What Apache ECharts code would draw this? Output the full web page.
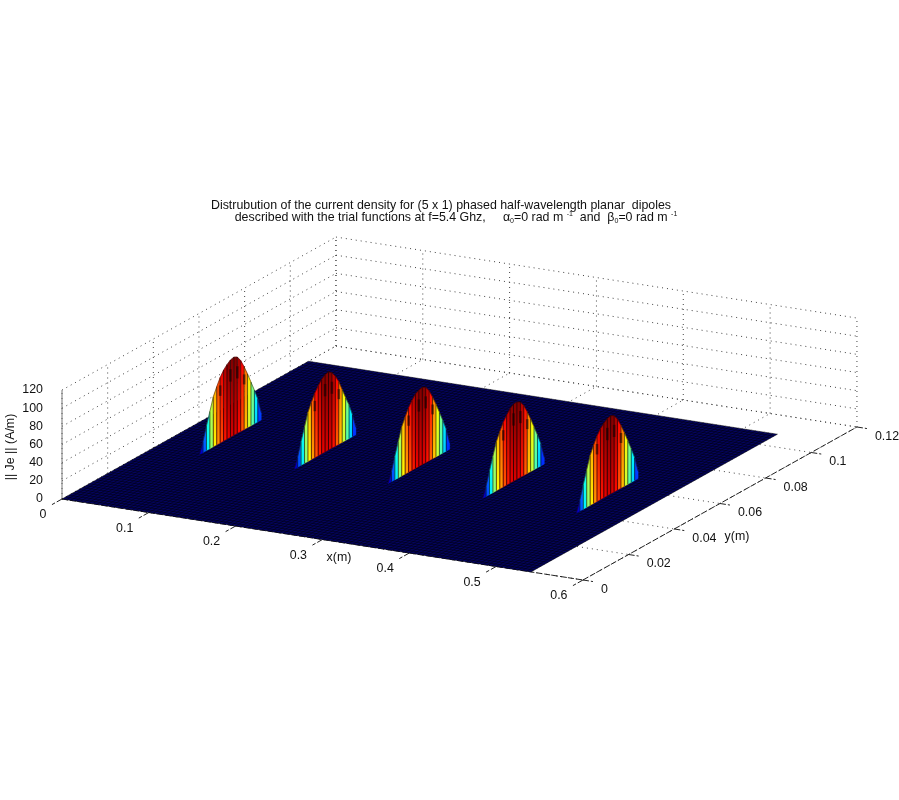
<!DOCTYPE html>
<html><head><meta charset="utf-8">
<style>html,body{margin:0;padding:0;background:#fff}#c{width:899px;height:800px;filter:blur(0.45px)}</style>
<script src="https://cdn.jsdelivr.net/npm/echarts@6/dist/echarts.min.js"></script></head>
<body><div id="c"></div>
<script>
// ---- chart values ----
const xTicks = [0, 0.1, 0.2, 0.3, 0.4, 0.5, 0.6];
const yTicks = [0, 0.02, 0.04, 0.06, 0.08, 0.1, 0.12];
const zTicks = [0, 20, 40, 60, 80, 100, 120];
const xTickLabels = ['0', '0.1', '0.2', '0.3', '0.4', '0.5', '0.6'];
const yTickLabels = ['0', '0.02', '0.04', '0.06', '0.08', '0.1', '0.12'];
const zTickLabels = ['0', '20', '40', '60', '80', '100', '120'];
const surfaceXEnd = 0.54, surfaceYEnd = 0.108;
const dipoleX = [0.052, 0.161, 0.269, 0.378, 0.486];
const dipoleY = [0.0405,0.042,0.0435,0.045,0.0465,0.048,0.0495,0.051,0.0525,0.054,0.0555,0.057,0.0585,0.06,0.0615,0.063,0.0645,0.066,0.0675];
const dipole1 = [0,12,27,41,55,64,72,78,82,85,86,84,78,69,59,48,37,25,8];
const dipole2 = [0,11,26,40,54,63,71,77,82,85,86,83,77,69,58,47,37,24,8];
const dipole3 = [0,11,26,40,54,63,71,77,82,84,85,83,77,68,58,47,36,24,7];
const dipole4 = [0,11,26,40,54,63,71,77,82,85,85,83,77,68,58,47,36,24,7];
const dipole5 = [0,12,27,41,55,64,72,78,82,85,86,84,78,69,59,48,37,25,8];
const dipoles = [dipole1, dipole2, dipole3, dipole4, dipole5];
const darkColumns = [6, 9, 11, 13];
const zMax = 84;

// ---- view projection of the 3-D box on the page plane ----
const O = [62, 499], UX = [868.3, 135], UY = [2283, -1275], UZ = -0.908;
const proj = (x, y, z) => [O[0] + UX[0]*x + UY[0]*y, O[1] + UX[1]*x + UY[1]*y + UZ*z];
const xMax = 0.6, yMax = 0.12, zTop = 120;

const jetStops = [[0,[0,0,143]],[0.125,[0,0,255]],[0.375,[0,255,255]],[0.625,[255,255,0]],[0.875,[255,0,0]],[1,[128,0,0]]];
function jet(t){ t=Math.max(0,Math.min(1,t));
  for(let i=1;i<jetStops.length;i++){ if(t<=jetStops[i][0]){ const a=jetStops[i-1],b=jetStops[i],f=(t-a[0])/(b[0]-a[0]);
    return 'rgb('+a[1].map((c,k)=>Math.round(c+(b[1][k]-c)*f)).join(',')+')'; } }
  return 'rgb(128,0,0)'; }

// ---- dotted grid on floor and back walls ----
const gridRows = [];
xTicks.forEach(x=>{ gridRows.push([x,0,0,x,yMax,0]); gridRows.push([x,yMax,0,x,yMax,zTop]); });
yTicks.forEach(y=>{ gridRows.push([0,y,0,xMax,y,0]); gridRows.push([0,y,0,0,y,zTop]); });
zTicks.forEach(z=>{ gridRows.push([0,0,z,0,yMax,z]); gridRows.push([0,yMax,z,xMax,yMax,z]); });

// ---- axis lines and ticks ----
const axisRows = [[0,0,0,xMax,0,0],[xMax,0,0,xMax,yMax,0]];
xTicks.forEach(x=>axisRows.push([x,0,0,x,-0.0044,0]));
yTicks.forEach(y=>axisRows.push([xMax,y,0,xMax+0.0115,y,0]));

// ---- flat surface mesh ----
const meshRows = [];
for(let i=0;i<=108;i++){ const x=surfaceXEnd*i/108; meshRows.push([x,0,0,x,surfaceYEnd,0]); }
for(let j=0;j<=72;j++){ const y=surfaceYEnd*j/72; meshRows.push([0,y,0,surfaceXEnd,y,0]); }

// ---- dipole columns ----
const colRows = [];
dipoles.forEach((vals,d)=>{ for(let i=0;i<vals.length-1;i++)
  colRows.push([dipoleX[d],dipoleY[i],dipoleY[i+1],vals[i],vals[i+1],darkColumns.includes(i)?1:0]); });

// ---- labels ----
const labelRows = [];
xTicks.forEach((x,i)=>labelRows.push([x,0,0,-15.5,16,'right',xTickLabels[i]]));
yTicks.forEach((y,i)=>labelRows.push([xMax,y,0,18,9.5,'left',yTickLabels[i]]));
zTicks.forEach((z,i)=>labelRows.push([0,0,z,-19,0,'right',zTickLabels[i]]));

const textCol = '#111';
const lineSeries = (rows, style, z) => ({
  type:'custom', coordinateSystem:'cartesian2d', silent:true, clip:false, z, animation:false, data:rows,
  renderItem:(p,api)=>{ const a=api.coord(proj(api.value(0),api.value(1),api.value(2))), b=api.coord(proj(api.value(3),api.value(4),api.value(5)));
    return {type:'line',shape:{x1:a[0],y1:a[1],x2:b[0],y2:b[1]},style}; }
});

const chart = echarts.init(document.getElementById('c'),null,{renderer:'canvas'});
const fontFamily = '"Liberation Sans", Arial, sans-serif';
const fs = 12.4;
chart.setOption({
  animation:false, backgroundColor:'#fff',
  title:[
    {text:'Distrubution of the current density for (5 x 1) phased half-wavelength planar  dipoles',
     left:436, top:195, textAlign:'center',
     textStyle:{fontFamily,fontSize:fs,fontWeight:'normal',color:textCol}},
    {text:'described with the trial functions at f=5.4 Ghz,     {s|α}{sub|0}=0 rad m {sup|-1}  and  {s|β}{sub|0}=0 rad m {sup|-1}',
     left:451, top:206, textAlign:'center',
     textStyle:{fontFamily,fontSize:fs,fontWeight:'normal',color:textCol,lineHeight:14,
       rich:{s:{fontFamily,fontSize:fs,color:textCol},
             sub:{fontFamily,fontSize:7,color:textCol,verticalAlign:'bottom',lineHeight:14},
             sup:{fontFamily,fontSize:7,color:textCol,verticalAlign:'top',lineHeight:10}}}}
  ],
  grid:{left:0,right:0,top:0,bottom:0},
  xAxis:{type:'value',min:0,max:899,show:false},
  yAxis:{type:'value',min:0,max:800,inverse:true,show:false},
  series:[
    lineSeries(gridRows,{stroke:'#444',lineWidth:1,lineDash:[1,4]},1),
    lineSeries(axisRows,{stroke:'#222',lineWidth:1,lineDash:[6,2]},2),
    lineSeries([[0,0,0,0,0,zTop]],{stroke:'#777',lineWidth:1},2),
    { type:'custom',coordinateSystem:'cartesian2d',silent:true,clip:false,z:3,data:[[surfaceXEnd,surfaceYEnd]],
      renderItem:(p,api)=>{ const X=api.value(0),Y=api.value(1);
        const pts=[[0,0],[X,0],[X,Y],[0,Y]].map(q=>api.coord(proj(q[0],q[1],0)));
        return {type:'polygon',shape:{points:pts},style:{fill:'#04045e'}}; } },
    lineSeries(meshRows,{stroke:'#000',lineWidth:0.6,opacity:0.8},4),
    { type:'custom',coordinateSystem:'cartesian2d',silent:true,clip:false,z:5,data:colRows,
      renderItem:(p,api)=>{ const x=api.value(0),y0=api.value(1),y1=api.value(2),z0=api.value(3),z1=api.value(4),dark=api.value(5);
        const pts=[[y0,0],[y1,0],[y1,z1],[y0,z0]].map((q)=>api.coord(proj(x,q[0],q[1])));
        const m=(z0+z1)/2/zMax;
        const top=jet(m), low=jet(m*0.9);
        const e0=api.coord(proj(x,y0,0)), e1=api.coord(proj(x,y0,z0));
        const kids=[
          {type:'polygon',shape:{points:pts},style:{fill:new echarts.graphic.LinearGradient(0,1,0,0,[{offset:0,color:low},{offset:1,color:top}]),stroke:top,lineWidth:0.4}},
          {type:'line',shape:{x1:e0[0],y1:e0[1],x2:e1[0],y2:e1[1]},style:{stroke:'#000',lineWidth:0.9,opacity:0.65}},
          {type:'line',shape:{x1:pts[2][0],y1:pts[2][1],x2:pts[3][0],y2:pts[3][1]},style:{stroke:'#200000',lineWidth:0.8,opacity:0.6}}
        ];
        if(dark){ const a=api.coord(proj(x,y0,z0*0.72)), b=api.coord(proj(x,y0,z0*0.88));
          kids.push({type:'line',shape:{x1:a[0],y1:a[1],x2:b[0],y2:b[1]},style:{stroke:'#100000',lineWidth:2.6,opacity:0.55}}); }
        return {type:'group',children:kids}; } },
    { type:'custom',coordinateSystem:'cartesian2d',silent:true,clip:false,z:6,data:labelRows,
      renderItem:(p,api)=>{ const a=api.coord(proj(api.value(0),api.value(1),api.value(2)));
        return {type:'text',x:a[0]+api.value(3),y:a[1]+api.value(4),
          style:{text:String(api.value(6)),align:api.value(5),verticalAlign:'middle',fontFamily,fontSize:fs,fill:textCol}}; },
      dimensions:['x','y','z','dx','dy',{name:'al',type:'ordinal'},{name:'t',type:'ordinal'}] }
  ],
  graphic:[
    {type:'text',x:339,y:558,style:{text:'x(m)',align:'center',verticalAlign:'middle',fontFamily,fontSize:fs,fill:textCol}},
    {type:'text',x:737,y:537,style:{text:'y(m)',align:'center',verticalAlign:'middle',fontFamily,fontSize:fs,fill:textCol}},
    {type:'text',x:11,y:447,rotation:Math.PI/2,style:{text:'|| Je || (A/m)',align:'center',verticalAlign:'middle',fontFamily,fontSize:fs,fill:textCol}}
  ]
});
</script></body></html>
